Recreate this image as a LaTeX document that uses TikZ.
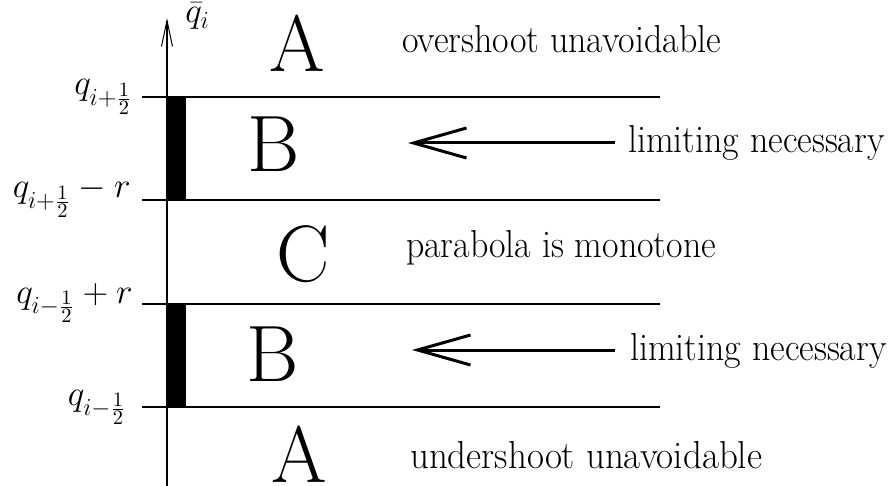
\documentclass[tikz,border=0pt]{standalone}
\usetikzlibrary{arrows.meta}
\begin{document}
\begin{tikzpicture}[x=1pt,y=-1pt,
  rule/.style={line width=1.3pt},
  bigletter/.style={inner sep=0pt,anchor=base,font=\fontsize{80}{90}\selectfont},
  txt/.style={inner sep=0pt,anchor=base west,xscale=0.92,font=\fontsize{39}{46}\selectfont},
  lab/.style={inner sep=0pt,anchor=base east,scale=2.04,font=\LARGE},
  bigarrow/.style={line width=3pt,-{Straight Barb[length=53pt,width=30pt,line width=3pt]}}]
\useasboundingbox (0,0) rectangle (896,486);
% axis
\coordinate (axbot) at (167,486);
\coordinate (axtop) at (167,18);
\draw[rule,-{Straight Barb[length=26pt,width=11pt,line width=1pt]}] (axbot) -- (axtop);
\node[inner sep=0pt,anchor=base west,scale=2.04,font=\LARGE] (qbar) at (185,23) {$\bar q_i$};
% horizontal lines
\foreach \n/\y in {l1/97,l2/200,l3/304,l4/407}{
  \coordinate (\n w) at (142,\y);
  \coordinate (\n e) at (660,\y);
  \draw[rule] (\n w) -- (\n e);
}
% bars
\fill (167,97) rectangle (186,200);
\fill (167,304) rectangle (186,407);
% left labels
\node[lab] (la1) at (133,95) {$q_{i+\frac12}$};
\node[lab] (la2) at (131,198) {$q_{i+\frac12}-r$};
\node[lab] (la3) at (133,303) {$q_{i-\frac12}+r$};
\node[lab] (la4) at (127,405) {$q_{i-\frac12}$};
% big letters
\node[bigletter] (A1) at (297,72) {A};
\node[bigletter] (B1) at (274,172) {B};
\node[bigletter] (C1) at (303,281) {C};
\node[bigletter] (B2) at (273,381) {B};
\node[bigletter] (A2) at (299,482) {A};
% texts
\node[txt] (t1) at (402,53) {overshoot unavoidable};
\node[txt] (t2) at (628,153) {limiting necessary};
\node[txt] (t3) at (406,258) {parabola is monotone};
\node[txt] (t4) at (630,360) {limiting necessary};
\node[txt, xscale=1.03] (t5) at (410,468) {undershoot unavoidable};
% arrows
\coordinate (a1s) at (615,143);
\coordinate (a1e) at (408,143);
\coordinate (a2s) at (615,350);
\coordinate (a2e) at (412,350);
\draw[bigarrow] (a1s) -- (a1e);
\draw[bigarrow] (a2s) -- (a2e);
\end{tikzpicture}
\end{document}
